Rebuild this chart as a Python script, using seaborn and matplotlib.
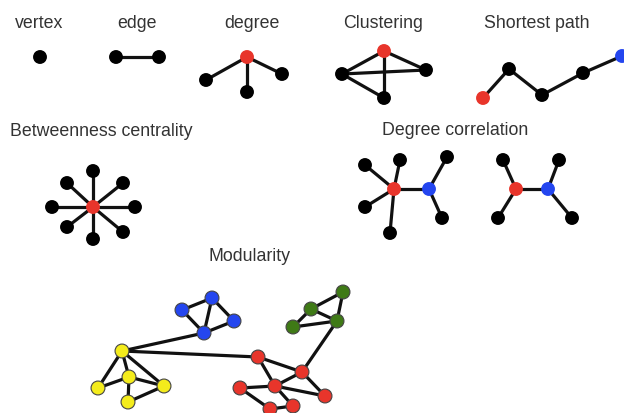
import numpy as np
import pandas as pd
import matplotlib
matplotlib.use('Agg')
import matplotlib.pyplot as plt
import seaborn as sns

# panel titles and where they sit
titles = ['vertex', 'edge', 'degree', 'Clustering', 'Shortest path',
          'Betweenness centrality', 'Degree correlation', 'Modularity']
title_x = [39, 137, 252, 383, 537, 101, 455, 250]
title_y = [23, 23, 23, 23, 23, 132, 131, 257]

# node positions (pixel space) and colour group of each node
vertex_x = [40]
vertex_y = [58]
vertex_c = ['k']

edge_x = [116, 159]
edge_y = [58, 58]
edge_c = ['k', 'k']
edge_e = [(0, 1)]

degree_x = [247, 206, 247, 282]
degree_y = [58, 81, 93, 75]
degree_c = ['r', 'k', 'k', 'k']
degree_e = [(0, 1), (0, 2), (0, 3)]

clust_x = [384, 342, 426, 384]
clust_y = [52, 75, 71, 99]
clust_c = ['r', 'k', 'k', 'k']
clust_e = [(0, 1), (0, 2), (0, 3), (1, 2), (1, 3)]

path_x = [483, 509, 542, 583, 622]
path_y = [99, 70, 96, 74, 57]
path_c = ['r', 'k', 'k', 'k', 'b']
path_e = [(0, 1), (1, 2), (2, 3), (3, 4)]

betw_x = [93, 93, 93, 52, 135, 67, 123, 67, 123]
betw_y = [208, 172, 240, 208, 208, 184, 184, 228, 233]
betw_c = ['r', 'k', 'k', 'k', 'k', 'k', 'k', 'k', 'k']
betw_e = [(0, i) for i in range(1, 9)]

dc1_x = [394, 429, 365, 400, 365, 390, 447, 442]
dc1_y = [190, 190, 166, 161, 208, 234, 158, 219]
dc1_c = ['r', 'b', 'k', 'k', 'k', 'k', 'k', 'k']
dc1_e = [(0, 1), (0, 2), (0, 3), (0, 4), (0, 5), (1, 6), (1, 7)]

dc2_x = [516, 548, 503, 498, 559, 572]
dc2_y = [190, 190, 161, 219, 161, 219]
dc2_c = ['r', 'b', 'k', 'k', 'k', 'k']
dc2_e = [(0, 1), (0, 2), (0, 3), (1, 4), (1, 5)]

# modularity network: blue 0-3, yellow 4-8, red 9-15, green 16-19
mod_x = [182, 212, 234, 204,
         122, 129, 98, 164, 128,
         258, 302, 275, 240, 325, 270, 293,
         343, 311, 337, 293]
mod_y = [311, 299, 322, 334,
         352, 378, 389, 387, 403,
         358, 373, 387, 389, 397, 410, 407,
         293, 310, 322, 328]
mod_c = ['b'] * 4 + ['y'] * 5 + ['r'] * 7 + ['g'] * 4
mod_e = [(0, 1), (0, 3), (1, 3), (1, 2), (2, 3),
         (4, 6), (4, 5), (4, 7), (5, 6), (5, 7), (5, 8), (8, 7),
         (9, 10), (9, 11), (10, 11), (10, 13), (11, 12), (11, 13), (12, 14), (11, 15), (14, 15),
         (16, 17), (16, 18), (17, 18), (17, 19), (19, 18),
         (4, 3), (4, 9), (18, 10)]

palette = {'k': '#000000', 'r': '#e8352b', 'b': '#2446ef', 'y': '#f4ec1c', 'g': '#3f7a16'}

sns.set_style('white')
plt.rcParams['font.family'] = ['Liberation Sans', 'DejaVu Sans']

fig = plt.figure(figsize=(6.24, 4.14), dpi=100)
ax = fig.add_axes([0, 0, 1, 1])


def draw(xs, ys, cs, es, edgecolor, size):
    for a, b in es:
        ax.plot([xs[a], xs[b]], [ys[a], ys[b]], color='#111111', lw=2.3,
                solid_capstyle='round', zorder=1)
    df = pd.DataFrame({'x': xs, 'y': ys, 'c': cs})
    sns.scatterplot(data=df, x='x', y='y', hue='c', palette=palette, s=size,
                    edgecolor=edgecolor, linewidth=0.8, legend=False, ax=ax, zorder=2)


draw(vertex_x, vertex_y, vertex_c, [], 'none', 100)
draw(edge_x, edge_y, edge_c, edge_e, 'none', 100)
draw(degree_x, degree_y, degree_c, degree_e, 'none', 100)
draw(clust_x, clust_y, clust_c, clust_e, 'none', 100)
draw(path_x, path_y, path_c, path_e, 'none', 100)
draw(betw_x, betw_y, betw_c, betw_e, 'none', 100)
draw(dc1_x, dc1_y, dc1_c, dc1_e, 'none', 100)
draw(dc2_x, dc2_y, dc2_c, dc2_e, 'none', 100)
draw(mod_x, mod_y, mod_c, mod_e, '#444444', 100)

for t, x, y in zip(titles, title_x, title_y):
    ax.text(x, y, t, ha='center', va='center', fontsize=12.8, color='#333333')

ax.set_xlim(0, 624)
ax.set_ylim(414, 0)
ax.axis('off')

fig.savefig('out.png', dpi=100)
